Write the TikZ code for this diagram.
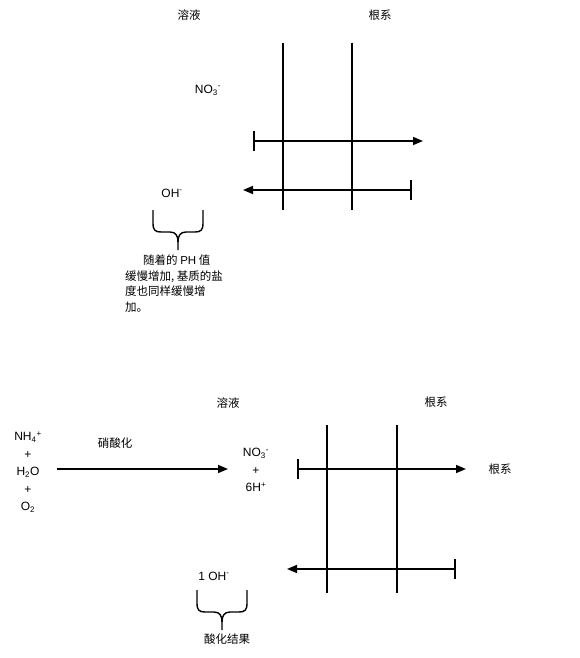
\documentclass[tikz,border=0pt]{standalone}
\usepackage{fontspec}
\setmainfont{Liberation Sans}
\newfontfamily\cjk{Noto Sans CJK SC}
\usetikzlibrary{arrows.meta}
\tikzset{
  lbl/.style={inner sep=0pt, font=\fontsize{12pt}{15.5pt}\selectfont},
  zh/.style={inner sep=0pt, font=\fontsize{11.5pt}{15.5pt}\selectfont\cjk},
  chem/.style={inner sep=0pt, align=center, font=\fontsize{12pt}{17.5pt}\selectfont},
  wall/.style={line width=1.4pt},
  flux/.style={line width=1.6pt, {Bar[width=20pt]}-{Triangle[length=10pt,width=8pt]}},
  react/.style={line width=1.6pt, -{Triangle[length=10pt,width=8pt]}},
  bracepath/.style={line width=1.4pt},
  mybrace/.pic={
    \draw[bracepath] (-25,-40) -- (-25,-27) .. controls (-25,-20) and (-23,-18) .. (-17,-18)
      -- (-8,-18) .. controls (-2,-18) and (0,-14) .. (0,-8) -- (0,0);
    \draw[bracepath] (25,-40) -- (25,-27) .. controls (25,-20) and (23,-18) .. (17,-18)
      -- (8,-18) .. controls (2,-18) and (0,-14) .. (0,-8);
  }
}
\begin{document}
\begin{tikzpicture}[x=1pt,y=-1pt]
\useasboundingbox (0,0) rectangle (579,658);
% ---------- top panel ----------
\node[zh] (sol1) at (189,15) {溶液};
\node[zh] (root1) at (380,15) {根系};
\coordinate (w1at) at (283,43); \coordinate (w1ab) at (283,210);
\coordinate (w1bt) at (352,43); \coordinate (w1bb) at (352,210);
\draw[wall] (w1at) -- (w1ab);
\draw[wall] (w1bt) -- (w1bb);
\node[lbl] (no3a) at (208,90) {NO\textsubscript{3}\textsuperscript{-}};
\coordinate (f1s) at (253,141); \coordinate (f1e) at (423,141);
\draw[flux] (f1s) -- (f1e);
\coordinate (f2s) at (412,190); \coordinate (f2e) at (243,190);
\draw[flux] (f2s) -- (f2e);
\node[lbl] (oha) at (172,193) {OH\textsuperscript{-}};
\pic at (178,250) {mybrace};
\node[zh, anchor=north west, align=left] (note) at (125,255)
  {\hspace*{18pt}随着的 {\fontspec{Liberation Sans}PH} 值\\缓慢增加, 基质的盐\\度也同样缓慢增\\加。};
% ---------- bottom panel ----------
\node[zh] (sol2) at (228,403) {溶液};
\node[zh] (root2) at (436,402) {根系};
\coordinate (w2at) at (327,425); \coordinate (w2ab) at (327,593);
\coordinate (w2bt) at (397,425); \coordinate (w2bb) at (397,593);
\draw[wall] (w2at) -- (w2ab);
\draw[wall] (w2bt) -- (w2bb);
\coordinate (f3s) at (297,469);
\node[zh] (root3) at (500,469) {根系};
\coordinate (f3e) at (466,469);
\draw[flux] (f3s) -- (f3e);
\coordinate (f4s) at (456,569); \coordinate (f4e) at (287,569);
\draw[flux] (f4s) -- (f4e);
\node[chem] (reac) at (28,472) {NH\textsubscript{4}\textsuperscript{+}\\+\\H\textsubscript{2}O\\+\\O\textsubscript{2}};
\node[chem] (prod) at (256,470) {NO\textsubscript{3}\textsuperscript{-}\\+\\6H\textsuperscript{+}};
\node[zh] (nitr) at (115,443) {硝酸化};
\coordinate (rs) at (57,469); \coordinate (re) at (228,469);
\draw[react] (rs) -- (re);
\node[lbl] (ohb) at (214,576) {1 OH\textsuperscript{-}};
\pic at (222,630) {mybrace};
\node[zh] (res) at (227,639) {酸化结果};
\end{tikzpicture}
\end{document}
